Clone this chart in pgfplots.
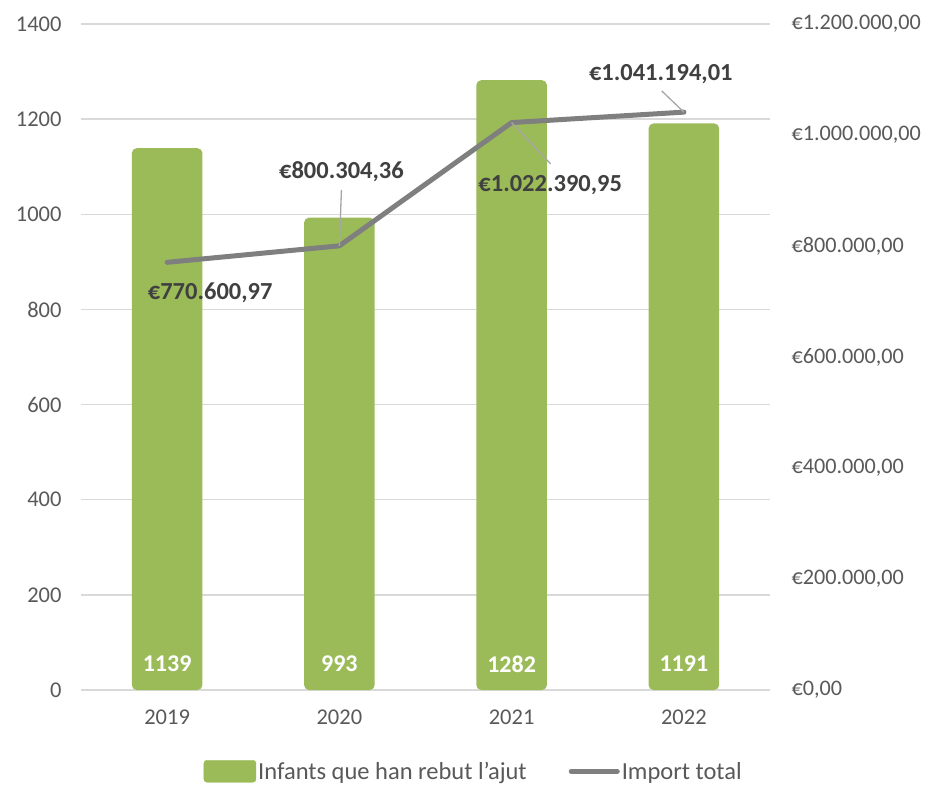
\documentclass[border=0pt]{standalone}
\usepackage{pgfplots}
\pgfplotsset{compat=1.18}
\usepackage{fontspec}
\setmainfont{Carlito}
\definecolor{bargreen}{HTML}{9BBB59}
\definecolor{linegray}{HTML}{7F7F7F}
\definecolor{ticktext}{HTML}{595959}
\definecolor{gridc}{HTML}{D9D9D9}
\definecolor{labtext}{HTML}{404040}
\definecolor{leader}{HTML}{A6A6A6}
\begin{document}
\begin{tikzpicture}[x=1pt,y=1pt]
\path[use as bounding box] (0,0) rectangle (934,788);
\begin{axis}[
  at={(81pt,98pt)}, anchor=south west,
  scale only axis, width=689pt, height=666pt,
  xmin=-0.5, xmax=3.5, ymin=0, ymax=1400,
  xtick={0,1,2,3}, xticklabels={2019,2020,2021,2022},
  ytick={0,200,400,600,800,1000,1200,1400},
  ymajorgrids, grid style={gridc, line width=1.3pt},
  axis line style={draw=none},
  major tick length=0pt,
  /pgf/number format/assume math mode=true,
  /pgf/number format/1000 sep={},
  tick label style={font=\fontsize{22.5}{26}\selectfont, text=ticktext},
  yticklabel style={xshift=-16pt},
  xticklabel style={yshift=-16pt},
  clip=false,
]
\addplot[ybar, bar width=0.41, fill=bargreen, draw=none, rounded corners=5pt]
  coordinates {(0,1139) (1,993) (2,1282) (3,1191)};
\addplot[draw=none, mark=none, nodes near coords, point meta=explicit symbolic,
  every node near coord/.style={anchor=center, text=white, font=\fontsize{24}{26}\selectfont\bfseries}]
  coordinates {(0,55) [1139] (1,55) [993] (2,55) [1282] (3,55) [1191]};
\end{axis}
\begin{axis}[
  at={(81pt,98pt)}, anchor=south west,
  scale only axis, width=689pt, height=666pt,
  xmin=-0.5, xmax=3.5, ymin=0, ymax=1200000,
  axis x line=none,
  axis y line*=right,
  axis line style={draw=none},
  major tick length=0pt,
  scaled y ticks=false,
  ytick={0,200000,400000,600000,800000,1000000,1200000},
  yticklabels={{€0,00},{€200.000,00},{€400.000,00},{€600.000,00},{€800.000,00},{€1.000.000,00},{€1.200.000,00}},
  tick label style={font=\fontsize{22.2}{26}\selectfont, text=ticktext},
  yticklabel style={xshift=18pt},
  clip=false,
  legend style={draw=none, at={(0.570,-0.122)}, anchor=center, legend columns=2,
    font=\fontsize{24.5}{28}\selectfont, text=ticktext,
    /tikz/every even column/.append style={column sep=40pt}},
  legend cell align=left,
]
\addlegendimage{legend image code/.code={\fill[bargreen, rounded corners=3pt] (0pt,-11pt) rectangle (52pt,11pt);}}
\addlegendentry{Infants que han rebut l’ajut}
\addplot[linegray, line width=5pt, line join=round, line cap=round,
  legend image code/.code={\draw[linegray, line width=5pt, line cap=round] (0pt,0pt) -- (46pt,0pt);}]
  coordinates {(0,770600.97) (1,800304.36) (2,1022390.95) (3,1041194.01)};
\addlegendentry{Import total}
\draw[leader, line width=1.3pt] (axis cs:1.012,900900) -- (axis cs:1,800304.36);
\draw[leader, line width=1.3pt] (axis cs:2,1022390.95) -- (axis cs:2.227,947750);
\draw[leader, line width=1.3pt] (axis cs:2.872,1079279) -- (axis cs:3,1041194.01);
\addplot[forget plot, draw=none, mark=none, nodes near coords, point meta=explicit symbolic,
  every node near coord/.style={anchor=center, text=labtext, font=\fontsize{24.5}{26}\selectfont\bfseries}]
  coordinates {(0.25,715300) [€770.600,97] (1.012,933300) [€800.304,36] (2.224,909900) [€1.022.390,95] (2.866,1109900) [€1.041.194,01]};
\end{axis}
\end{tikzpicture}
\end{document}
